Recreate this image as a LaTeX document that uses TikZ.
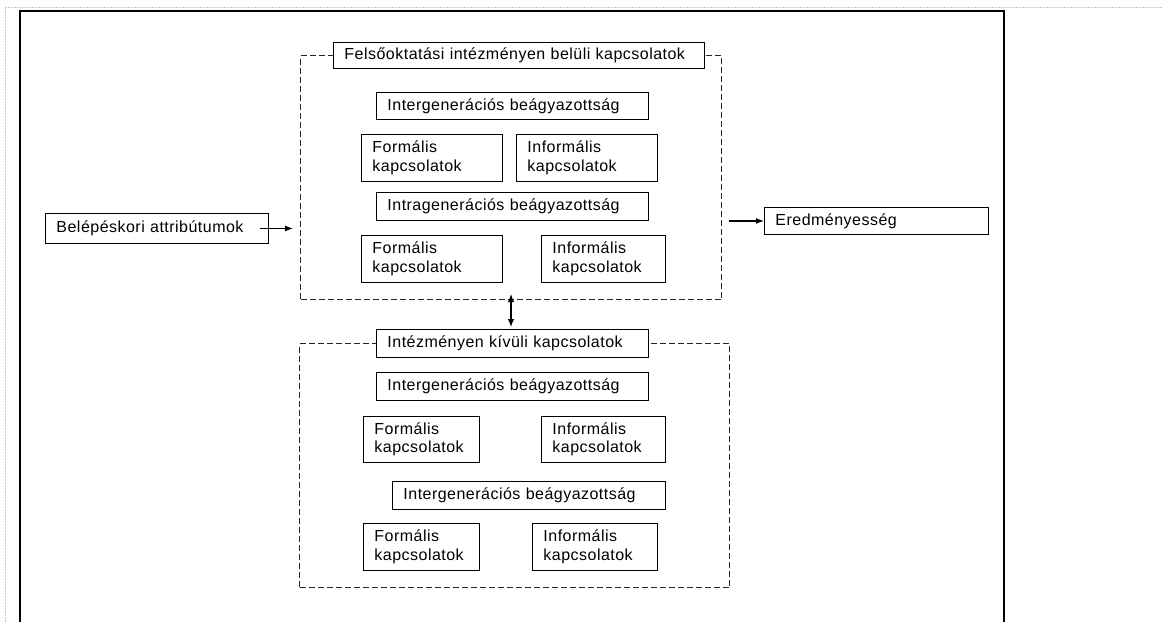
\documentclass[tikz,border=0pt]{standalone}
\usepackage{fontspec}
\newfontfamily\arl[LetterSpace=3]{Liberation Sans}
\usetikzlibrary{arrows.meta}
\begin{document}
\begin{tikzpicture}[x=1pt,y=-1pt,
  bx/.style={draw, line width=0.9pt, anchor=north west, inner xsep=11pt, inner ysep=0pt, align=left, font=\arl\fontsize{16}{18.5}\selectfont},
  grp/.style={draw=black!85, line width=1pt, dash pattern=on 6pt off 3pt, anchor=north west, inner sep=0pt},
  arr/.style={line width=1.1pt, -{Latex[length=8pt,width=6pt]}},
  darr/.style={line width=1.3pt, {Latex[length=8pt,width=6.5pt]}-{Latex[length=8pt,width=6.5pt]}},
]
\useasboundingbox (0,0) rectangle (1163,622);
\draw[gray!45, line width=1pt, dash pattern=on 2pt off 1pt] (5,622) -- (5,7) -- (1163,7);
\draw[line width=1.2pt] (20,622) -- (20,11) -- (1004,11) -- (1004,622);

% top group
\node[grp, minimum width=421, minimum height=244] (topgrp) at (300,55) {};
\node[bx, fill=white, text width=349, minimum height=26] (toptitle) at (333,42) {Felsőoktatási intézményen belüli kapcsolatok};
\node[bx, text width=250, minimum height=27] (t1) at (376,92) {Intergenerációs beágyazottság};
\node[bx, text width=119, minimum height=47] (t2) at (361,134) {Formális\\kapcsolatok};
\node[bx, text width=119, minimum height=47] (t3) at (516,134) {Informális\\kapcsolatok};
\node[bx, text width=250, minimum height=28] (t4) at (376,192) {Intragenerációs beágyazottság};
\node[bx, text width=119, minimum height=47] (t5) at (361,235) {Formális\\kapcsolatok};
\node[bx, text width=102, minimum height=47] (t6) at (541,235) {Informális\\kapcsolatok};

% bottom group
\node[grp, minimum width=430, minimum height=244] (botgrp) at (299,343) {};
\node[bx, fill=white, text width=250, minimum height=28] (bottitle) at (376,329) {Intézményen kívüli kapcsolatok};
\node[bx, text width=250, minimum height=28] (b1) at (376,372) {Intergenerációs beágyazottság};
\node[bx, text width=94, minimum height=46] (b2) at (363,416) {Formális\\kapcsolatok};
\node[bx, text width=102, minimum height=46] (b3) at (541,416) {Informális\\kapcsolatok};
\node[bx, text width=251, minimum height=28] (b4) at (392,481) {Intergenerációs beágyazottság};
\node[bx, text width=94, minimum height=47] (b5) at (363,523) {Formális\\kapcsolatok};
\node[bx, text width=103, minimum height=47] (b6) at (532,523) {Informális\\kapcsolatok};

% side boxes
\node[bx, text width=201, minimum height=30] (belep) at (45,213) {Belépéskori attribútumok};
\node[bx, text width=202, minimum height=27] (ered) at (764,207) {Eredményesség};

% connectors
\path (topgrp.west |- belep.east) ++(-7pt,0) coordinate (lend);
\draw[arr] ([xshift=-9pt]belep.east) -- (lend);
\path (topgrp.east |- ered.west) ++(7pt,0) coordinate (rstart);
\draw[arr] (rstart) -- (ered.west);
\draw[darr] ([yshift=6pt]topgrp.south) -- ([yshift=2pt]topgrp.south |- bottitle.north);
\end{tikzpicture}
\end{document}
